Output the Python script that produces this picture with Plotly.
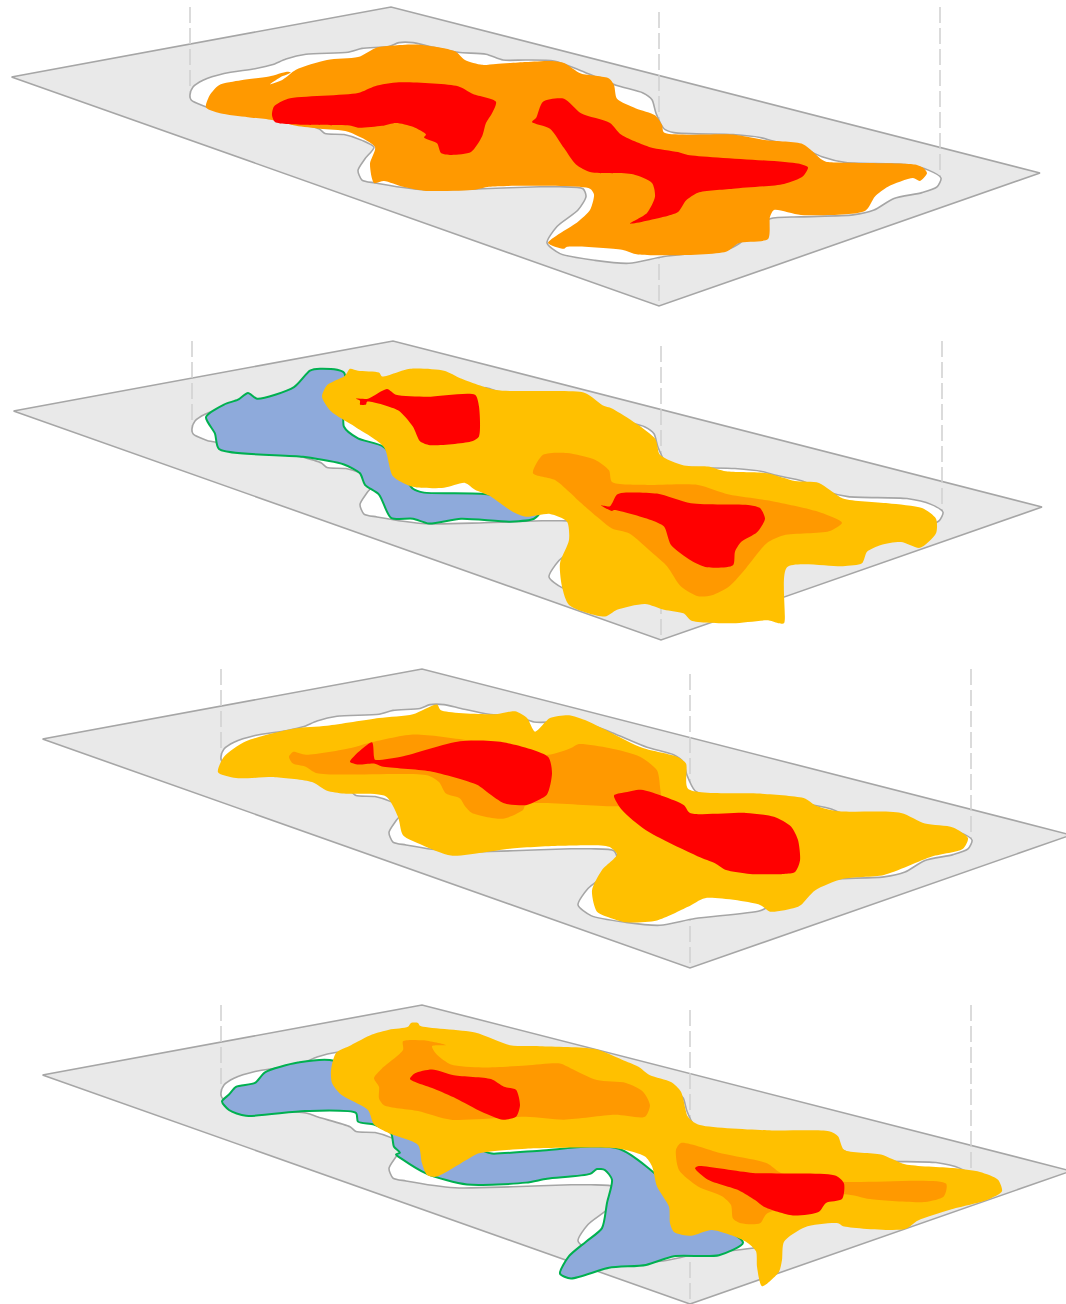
import plotly.graph_objects as go

# Shapes below were read from enlarged crops, whose y axis is stretched a little more
# than the x axis. READ_Y_RATIO and the crop origins convert those readings to page y.
READ_Y_RATIO = 0.968
CROP_Y_ORIGINS = [0, 330, 660, 990]

# Outline of the region, traced on the first panel (other panels repeat it with an offset)
ISLAND = [(190,98),(193,90),(203,83),(224,76),(255,71),(272,67),(286,61),(306,56),(348,54),(362,50),(389,48),(399,44),(413,44),(430,48),(458,54),(486,56),(503,62),(526,62),(554,63),(581,73),(616,88),(643,96),(652,103),(656,117),(664,133),(674,137),(733,139),(760,142),(774,146),(801,152),(822,162),(846,168),(905,170),(929,176),(941,184),(937,193),(922,199),(894,205),(874,217),(853,222),(801,224),(770,226),(740,251),(729,257),(664,265),(629,272),(595,269),(560,262),(547,251),(557,234),(578,217),(586,203),(583,195),(560,193),(540,193),(482,195),(424,196),(375,189),(362,186),(358,176),(365,164),(374,152),(362,145),(344,139),(325,138),(319,133),(287,123),(276,119),(240,115),(205,110),(191,103)]
PLANE = [(11.5,77),(391,7),(1040,173),(659,306)]
PANEL_OFFSETS = [(0,0),(2,334),(31,662),(31,998)]
GUIDE_X = [190,659,940]
GUIDE_TOP = [7,12,7]
GUIDE_BOTTOM = [98,306,180]

P1_ORANGE = [(206,111),(210,98),(219,88),(241,83),(269,79),(287,74),(291,75),(280,80),(270,87),(283,82),(296,72),(327,62),(358,59),(377,49),(393,47),(417,46),(455,53),(465,62),(482,67),(496,66),(526,64),(552,63),(564,65),(581,76),(609,81),(614,88),(617,102),(636,112),(655,119),(662,129),(664,137),(733,139),(767,145),(803,149),(822,165),(826,167),(915,170),(924,174),(927,179),(920,187),(913,184),(888,193),(875,203),(865,218),(801,222),(774,217),(770,224),(768,247),(739,251),(726,260),(638,263),(622,258),(567,255),(564,257),(548,251),(578,229),(590,217),(594,201),(590,195),(526,192),(489,193),(475,196),(424,197),(403,193),(384,187),(374,189),(370,169),(375,152),(348,136),(320,133),(296,130),(272,124),(248,121),(220,117)]
P1_RED_A = [(272,119),(274,110),(288,102),(358,96),(375,89),(399,85),(458,89),(473,97),(496,105),(492,117),(486,127),(482,141),(471,157),(451,160),(441,158),(437,148),(424,142),(426,139),(413,131),(396,127),(382,130),(358,132),(351,130),(306,129),(275,126)]
P1_RED_B = [(532,126),(536,122),(543,105),(564,102),(581,117),(610,127),(621,139),(650,152),(678,157),(688,160),(798,169),(808,173),(803,182),(784,190),(733,195),(698,199),(686,207),(678,219),(664,224),(630,231),(647,220),(655,203),(652,189),(633,180),(591,178),(576,170),(564,153),(550,133)]

P2_BLUE = [(206,420),(224,407),(238,402),(248,395),(257,401),(294,389),(310,372),(320,370),(344,374),(344,430),(358,442),(384,451),(413,494),(424,498),(489,500),(540,518),(534,525),(510,528),(461,525),(429,530),(413,525),(391,524),(379,500),(365,490),(360,478),(344,469),(303,461),(219,453),(215,437)]
P2_YELLOW = [(346,376),(350,370),(358,372),(379,374),(382,378),(410,370),(444,372),(461,380),(496,392),(540,393),(585,395),(603,408),(612,411),(655,442),(660,459),(684,470),(708,471),(726,476),(767,478),(795,486),(819,488),(843,504),(888,509),(922,514),(936,525),(936,540),(920,555),(901,549),(881,552),(867,559),(862,571),(843,574),(787,575),(784,633),(779,633),(769,630),(733,633),(691,630),(684,623),(664,619),(645,613),(617,619),(605,626),(569,614),(562,595),(560,571),(569,547),(567,528),(550,520),(526,523),(513,518),(503,511),(489,501),(475,495),(465,488),(444,493),(413,492),(393,481),(384,451),(355,430),(331,414),(322,399),(327,387),(344,378)]
P2_ORANGE = [(533,478),(543,459),(567,457),(595,464),(609,475),(612,487),(647,490),(698,490),(729,500),(767,506),(819,518),(842,529),(829,538),(784,542),(767,550),(746,576),(729,595),(712,604),(698,605),(681,595),(667,574),(653,561),(629,540),(612,535),(597,523),(578,506),(571,499),(555,485)]
P2_RED_A = [(356,401),(368,401),(387,391),(396,397),(427,399),(475,397),(479,409),(479,440),(472,445),(430,449),(420,445),(413,430),(398,413),(367,404),(366,407),(360,407),(360,403)]
P2_RED_B = [(601,511),(610,512),(617,500),(626,498),(657,499),(691,509),(750,511),(760,514),(765,525),(757,539),(741,549),(735,559),(733,573),(707,575),(691,568),(671,552),(664,533),(650,526),(614,516),(612,517)]

P3_YELLOW = [(218,776),(224,760),(246,744),(293,731),(327,728),(379,720),(413,716),(437,706),(441,712),(496,716),(515,713),(527,720),(535,734),(550,720),(569,717),(585,722),(609,734),(643,751),(677,760),(686,767),(688,793),(760,798),(805,803),(815,810),(836,816),(901,818),(925,829),(953,833),(968,844),(963,855),(932,863),(884,882),(843,886),(815,898),(801,913),(795,916),(770,920),(760,913),(705,906),(688,915),(657,929),(626,931),(612,927),(597,920),(592,898),(602,877),(617,861),(609,853),(560,852),(510,855),(482,859),(451,862),(422,851),(403,841),(398,822),(386,801),(344,798),(327,795),(312,786),(275,781),(236,782)]
P3_ORANGE = [(289,760),(293,755),(306,758),(351,751),(368,746),(413,737),(468,743),(548,758),(571,751),(578,747),(609,751),(640,760),(657,774),(660,791),(660,805),(619,811),(526,809),(523,815),(503,824),(472,818),(465,811),(460,803),(446,798),(439,786),(427,779),(317,777),(305,770),(293,767)]
P3_RED_A = [(350,765),(372,745),(374,760),(375,763),(401,760),(460,744),(503,745),(548,760),(552,777),(547,799),(536,806),(526,810),(504,808),(489,798),(477,789),(430,775),(382,770),(374,767),(358,768)]
P3_RED_B = [(614,800),(624,797),(641,794),(664,801),(684,810),(690,818),(746,818),(774,822),(791,832),(798,846),(800,867),(795,879),(784,881),(750,881),(726,877),(715,870),(698,863),(646,836),(622,815)]

P4_BLUE = [(222,1105),(229,1098),(236,1090),(255,1086),(265,1075),(298,1065),(334,1063),(485,1157),(492,1159),(540,1156),(619,1154),(700,1220),(743,1251),(719,1264),(674,1265),(646,1274),(609,1277),(571,1288),(560,1283),(569,1265),(586,1250),(602,1236),(607,1210),(612,1186),(605,1176),(597,1175),(590,1180),(547,1185),(526,1189),(467,1191),(427,1180),(401,1164),(396,1160),(400,1158),(394,1152),(391,1138),(374,1129),(358,1126),(356,1117),(305,1115),(246,1120),(229,1114)]
P4_YELLOW = [(331,1073),(336,1055),(351,1047),(372,1036),(389,1031),(408,1028),(411,1024),(418,1024),(420,1027),(475,1034),(510,1047),(540,1048),(595,1051),(622,1062),(638,1069),(650,1078),(671,1085),(681,1095),(688,1121),(698,1129),(767,1135),(829,1136),(838,1141),(844,1155),(881,1160),(905,1170),(953,1174),(980,1178),(998,1186),(1002,1198),(987,1207),(950,1217),(918,1228),(905,1237),(843,1234),(838,1231),(805,1235),(784,1250),(782,1269),(779,1281),(762,1296),(757,1276),(756,1260),(746,1250),(712,1238),(691,1244),(674,1240),(670,1231),(669,1214),(657,1193),(652,1172),(645,1162),(619,1154),(526,1154),(489,1157),(478,1159),(461,1169),(436,1183),(427,1181),(422,1169),(418,1150),(389,1138),(374,1129),(368,1114),(341,1098),(332,1086)]
P4_ORANGE_A = [(374,1081),(382,1071),(403,1052),(403,1043),(423,1042),(446,1047),(432,1048),(437,1057),(451,1067),(482,1070),(526,1068),(560,1066),(571,1071),(597,1083),(626,1086),(643,1095),(650,1109),(645,1121),(615,1119),(564,1124),(526,1121),(451,1124),(418,1115),(384,1109),(379,1102),(379,1090)]
P4_ORANGE_B = [(676,1155),(681,1148),(722,1159),(767,1169),(781,1179),(844,1188),(946,1190),(944,1203),(925,1209),(870,1206),(844,1201),(767,1221),(760,1231),(741,1231),(733,1226),(731,1212),(722,1203),(698,1193),(679,1176)]
P4_RED_A = [(410,1082),(415,1076),(432,1072),(454,1078),(491,1082),(504,1090),(516,1093),(520,1109),(516,1121),(503,1124),(482,1116),(456,1102),(434,1092)]
P4_RED_B = [(695,1174),(698,1172),(753,1179),(836,1182),(844,1190),(842,1206),(826,1210),(819,1219),(793,1223),(764,1214),(755,1207),(739,1197),(708,1186)]

GREY = "#e9e9e9"
EDGE = "#a6a6a6"
GUIDE = "#cfcfcf"
ORANGE = "#ff9900"
YELLOW = "#ffc000"
RED = "#ff0000"
BLUE = "#8eaadb"
GREEN = "#00b050"

fig = go.Figure()


def page_y(y, panel):
    origin = CROP_Y_ORIGINS[panel]
    return origin + (y - origin) * READ_Y_RATIO


def poly(points, fill, panel=0, line=None, width=0, dx=0, dy=0, smooth=True, calibrate=True):
    pts = list(points) + [points[0]]
    ys = [page_y(p[1], panel) if calibrate else p[1] for p in pts]
    fig.add_trace(go.Scatter(
        x=[p[0] + dx for p in pts], y=[y + dy for y in ys],
        mode="lines", fill="toself", fillcolor=fill,
        line=dict(color=line or fill, width=width,
                  shape="spline" if smooth else "linear", smoothing=0.7),
        hoverinfo="skip", showlegend=False))


for dx, dy in PANEL_OFFSETS:
    poly(PLANE, GREY, line=EDGE, width=1.6, dx=dx, dy=dy, smooth=False, calibrate=False)
    for gx, top, bottom in zip(GUIDE_X, GUIDE_TOP, GUIDE_BOTTOM):
        fig.add_trace(go.Scatter(
            x=[gx + dx, gx + dx], y=[top + dy, bottom + dy], mode="lines",
            line=dict(color=GUIDE, width=1.5, dash="16px,5px"),
            hoverinfo="skip", showlegend=False))
    poly(ISLAND, "#ffffff", line=EDGE, width=1.6, dx=dx, dy=dy)

poly(P1_ORANGE, ORANGE, 0)
poly(P1_RED_A, RED, 0)
poly(P1_RED_B, RED, 0)

poly(P2_BLUE, BLUE, 1, line=GREEN, width=2)
poly(P2_YELLOW, YELLOW, 1)
poly(P2_ORANGE, ORANGE, 1)
poly(P2_RED_A, RED, 1)
poly(P2_RED_B, RED, 1)

poly(P3_YELLOW, YELLOW, 2)
poly(P3_ORANGE, ORANGE, 2)
poly(P3_RED_A, RED, 2)
poly(P3_RED_B, RED, 2)

poly(P4_BLUE, BLUE, 3, line=GREEN, width=2)
poly(P4_YELLOW, YELLOW, 3)
poly(P4_ORANGE_A, ORANGE, 3)
poly(P4_ORANGE_B, ORANGE, 3)
poly(P4_RED_A, RED, 3)
poly(P4_RED_B, RED, 3)

fig.update_layout(
    width=1066, height=1304, margin=dict(l=0, r=0, t=0, b=0),
    paper_bgcolor="white", plot_bgcolor="white", showlegend=False,
    xaxis=dict(range=[0, 1066], visible=False, fixedrange=True),
    yaxis=dict(range=[1304, 0], visible=False, fixedrange=True),
)
fig.write_html("out.html", config={"displayModeBar": False},
               post_script="document.body.style.margin='0';document.documentElement.style.overflow='hidden';")
